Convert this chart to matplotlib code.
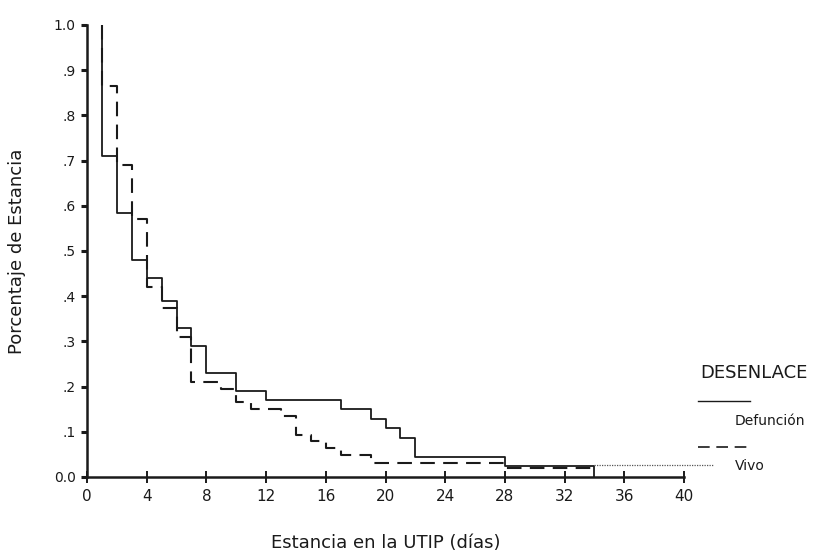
import matplotlib
matplotlib.use("Agg")
import matplotlib.pyplot as plt
from matplotlib.lines import Line2D

# Kaplan-Meier style step data
defun_t = [1, 1, 2, 3, 4, 5, 6, 7, 8, 10, 12, 17, 19, 20, 21, 22, 28, 34]
defun_s = [1.0, 0.71, 0.585, 0.48, 0.44, 0.39, 0.33, 0.29, 0.23, 0.19, 0.17,
           0.15, 0.128, 0.108, 0.086, 0.044, 0.024, 0.0]

vivo_t = [1, 1, 2, 3, 4, 5, 6, 7, 9, 10, 11, 13, 14, 15, 16, 17, 19, 28, 34]
vivo_s = [1.0, 0.865, 0.69, 0.57, 0.42, 0.375, 0.31, 0.21, 0.195, 0.165, 0.15,
          0.135, 0.093, 0.08, 0.064, 0.049, 0.031, 0.02, 0.02]

# censored tail after the last event
tail_t = [34, 42]
tail_s = [0.026, 0.026]

xticks = list(range(0, 41, 4))
yticks = [0.0, 0.1, 0.2, 0.3, 0.4, 0.5, 0.6, 0.7, 0.8, 0.9, 1.0]
ytick_labels = ['0.0', '.1', '.2', '.3', '.4', '.5', '.6', '.7', '.8', '.9', '1.0']

ink = '#1a1a1a'

fig = plt.figure(figsize=(8.26, 5.59), dpi=100)
ax = fig.add_axes([87/826, 1 - 477/559, (684 - 87)/826, (477 - 25)/559])

ax.plot(defun_t, defun_s, drawstyle='steps-post', color=ink, lw=1.3,
        solid_capstyle='butt')
ax.plot(vivo_t, vivo_s, drawstyle='steps-post', color=ink, lw=1.5,
        linestyle=(0, (7, 4)))
ax.plot(tail_t, tail_s, color='#555555', lw=0.9, linestyle=(0, (1, 1)),
        clip_on=False)

ax.set_xlim(0, 40)
ax.set_ylim(0, 1)
ax.set_xticks(xticks)
ax.set_yticks(yticks)
ax.set_yticklabels(ytick_labels)
for s in ['top', 'right']:
    ax.spines[s].set_visible(False)
for s in ['left', 'bottom']:
    ax.spines[s].set_linewidth(1.8)
    ax.spines[s].set_color(ink)
ax.tick_params(axis='x', direction='inout', length=9, width=1.4, labelsize=11,
               colors=ink, pad=4)
ax.tick_params(axis='y', direction='out', length=4, width=2.2, labelsize=10,
               colors=ink, pad=4)

ax.set_xlabel('Estancia en la UTIP (días)', fontsize=13, labelpad=22, color=ink)
ax.set_ylabel('Porcentaje de Estancia', fontsize=13, labelpad=20, color=ink)

# legend drawn by hand to match the original layout
fig.text(700/826, 1 - 373/559, 'DESENLACE', fontsize=13, color=ink,
         va='center', ha='left')
fig.add_artist(Line2D([698/826, 750/826], [1 - 401/559, 1 - 401/559],
                      color=ink, lw=1.0))
fig.text(735/826, 1 - 421/559, 'Defunción', fontsize=10, color=ink,
         va='center', ha='left')
fig.add_artist(Line2D([698/826, 750/826], [1 - 447/559, 1 - 447/559],
                      color=ink, lw=1.2, linestyle=(0, (7, 4))))
fig.text(735/826, 1 - 466/559, 'Vivo', fontsize=10, color=ink,
         va='center', ha='left')

fig.savefig('out.png', dpi=100)
